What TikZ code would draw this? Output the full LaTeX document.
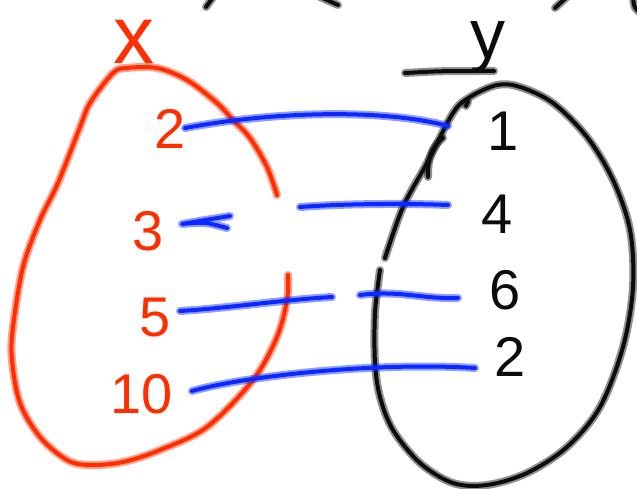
\documentclass[tikz,border=0pt]{standalone}
\usepackage{fontspec}
\setmainfont{Liberation Sans}
\definecolor{penred}{RGB}{255,45,0}
\definecolor{penblue}{RGB}{10,40,255}
\definecolor{penblack}{RGB}{12,12,12}
\begin{document}
\begin{tikzpicture}[x=1pt,y=-1pt,
  ink/.style={draw=#1, line width=4pt, line cap=round, line join=round,
    preaction={draw=#1, draw opacity=0.45, line width=8pt, line cap=round, line join=round}},
  lab/.style={text=#1, inner sep=0pt, font=\fontsize{56}{56}\selectfont},
  big/.style 2 args={text=#1, inner sep=0pt, font=\fontsize{#2}{#2}\selectfont},
]
\useasboundingbox (0,0) rectangle (637,489);

% set labels
\node[big={penred}{82}] (lx) at (134,42) {x};
\node[big={penblack}{70}] (ly) at (488,47) {y};
\draw[ink=penblack] (405,73) .. controls (440,71) .. (494,71);

% elements
\node[lab=penred] (a2) at (170,129) {2};
\node[lab=penred] (a3) at (148,231) {3};
\node[lab=penred] (a5) at (155,318) {5};
\node[lab=penred] (a10) at (142,394) {10};
\node[lab=penblack] (b1) at (503,131) {1};
\node[lab=penblack] (b4) at (497,214) {4};
\node[lab=penblack] (b6) at (505,290) {6};
\node[lab=penblack] (b2) at (510,357) {2};

% red set outline
\draw[ink=penred] plot[smooth, tension=0.55] coordinates {
 (277,195) (267,167) (250,138) (233,120) (217,103) (187,80) (157,68) (127,68)
 (113,73) (90,103) (80,127) (58,183) (40,220) (23,267) (13,327) (12,360)
 (20,403) (40,437) (67,460) (90,465) (123,462) (160,450) (207,427) (253,380)
 (277,337) (287,300) (288,275)};

% black set outline
\draw[ink=penblack] plot[smooth, tension=0.55] coordinates {
 (385,258) (403,207) (427,163) (453,113) (470,97) (497,85) (520,87) (553,103)
 (587,137) (613,180) (630,230) (633,287) (623,347) (600,407) (567,447)
 (527,473) (487,485) (453,483) (420,463) (393,430) (380,397) (375,363)
 (375,313) (380,270)};
\draw[ink=penblack] (466,106) -- (468,102);
\draw[ink=penblack] (443,138) .. controls (430,148) and (428,160) .. (428,177);

% stray strokes at the top edge
\draw[ink=penblack] (206,7) -- (214,-4);
\draw[ink=penblack] (320,-3) -- (338,5);
\draw[ink=penblack] (555,8) -- (568,-4);
\draw[ink=penblack] (642,14) .. controls (634,8) .. (633,-3);

% mapping strokes
\coordinate (s1) at (185,128); \coordinate (e1) at (448,126);
\draw[ink=penblue] (s1) .. controls (270,112) and (380,108) .. (e1);
\coordinate (s3) at (182,224);
\coordinate (t3a) at (230,216); \coordinate (t3b) at (227,228);
\draw[ink=penblue] (t3a) .. controls (205,220) .. (s3) .. controls (205,222) .. (t3b);
\coordinate (s4) at (300,207); \coordinate (e4) at (448,205);
\draw[ink=penblue] (s4) .. controls (340,204) and (400,203) .. (e4);
\coordinate (s5) at (180,311); \coordinate (m5) at (332,297);
\draw[ink=penblue] (s5) .. controls (230,308) and (280,300) .. (m5);
\coordinate (s6) at (360,295); \coordinate (e6) at (458,298);
\draw[ink=penblue] (s6) .. controls (400,290) and (420,299) .. (e6);
\coordinate (s10) at (192,391); \coordinate (e10) at (475,368);
\draw[ink=penblue] (s10) .. controls (250,375) and (380,362) .. (e10);
\end{tikzpicture}
\end{document}
